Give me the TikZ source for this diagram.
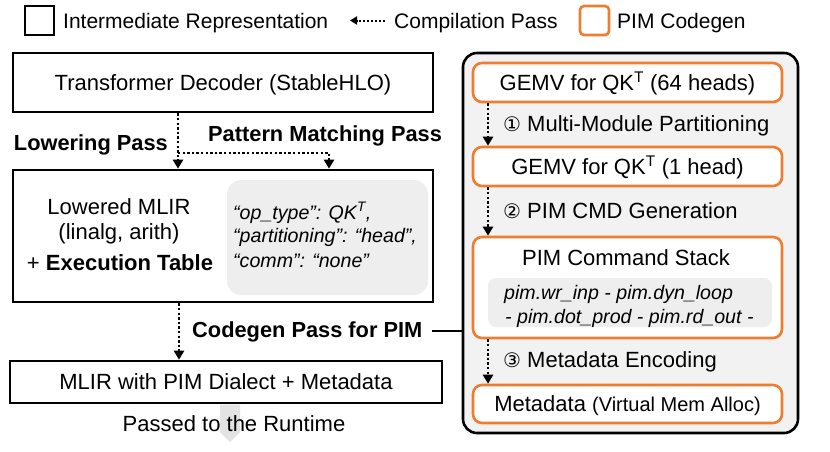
\documentclass[tikz,border=0pt]{standalone}
\usepackage{fontspec}
\setmainfont{Liberation Sans}
\newfontfamily\djv{DejaVu Sans}
\usetikzlibrary{arrows.meta}
\newcommand\fsz[1]{\fontsize{#1pt}{#1pt}\selectfont}
\definecolor{orng}{HTML}{ED7D31}
\definecolor{panelgray}{HTML}{F2F2F2}
\definecolor{tabgray}{HTML}{EEEEEE}
\definecolor{arrgray}{HTML}{E3E3E3}
\begin{document}
\begin{tikzpicture}[x=1pt,y=-1pt,
 irbox/.style={draw, line width=2.6pt, inner sep=0pt, font=\fsz{22}, text height=15.8pt, text depth=0pt},
 obox/.style={draw=orng, fill=white, line width=2.6pt, rounded corners=9pt, inner sep=0pt, font=\fsz{22}, text height=15.8pt, text depth=0pt},
 txt/.style={inner sep=0pt, font=\fsz{22}, text height=15.8pt, text depth=0pt},
 btxt/.style={txt, font=\fsz{21.8}\bfseries},
 itxt/.style={inner sep=0pt, font=\fsz{19.6}\itshape, text height=14pt, text depth=0pt},
 ltxt/.style={inner sep=0pt, font=\fsz{21}, text height=15pt, text depth=0pt},
 pass/.style={line width=2.4pt, dash pattern=on 2.4pt off 2.2pt, -{Triangle[length=9pt,width=10pt]}},
]
\useasboundingbox (0,0) rectangle (830,451);

% ---------- legend ----------
\node[draw, line width=2.6pt, minimum size=29pt, inner sep=0pt] (lgir) at (39.5,20.5) {};
\node[ltxt, anchor=west] (lgirt) at (63,20.5) {Intermediate Representation};
\coordinate (lga) at (385,20.5);
\coordinate (lgb) at (350,20.5);
\draw[line width=2pt, dash pattern=on 2pt off 2pt, -{Triangle[length=7pt,width=8pt]}] (lga) -- (lgb);
\node[ltxt, anchor=west] (lgpass) at (394,20.5) {Compilation Pass};
\node[draw=orng, line width=2.6pt, rounded corners=4pt, minimum size=29pt, inner sep=0pt] (lgpim) at (594.5,20.5) {};
\node[ltxt, anchor=west] (lgpimt) at (617,20.5) {PIM Codegen};

% ---------- left column ----------
\node[irbox, minimum width=420pt, minimum height=59pt] (dec) at (223,82.5) {Transformer Decoder (StableHLO)};
\node[irbox, minimum width=420pt, minimum height=132pt] (low) at (223,236) {};
\node[fill=tabgray, rounded corners=14pt, minimum width=201pt, minimum height=115pt, inner sep=0pt] (tab) at (327.5,237.5) {};
\node[txt] (lm1) at (119,207) {Lowered MLIR};
\node[txt] (lm2) at (119,232) {(linalg, arith)};
\node[txt] (lm3) at (120,263) {+ \textbf{Execution Table}};
\node[itxt, anchor=west] (tb1) at (233,212) {“op\_type”: QK\textsuperscript{T},};
\node[itxt, anchor=west] (tb2) at (233,235) {“partitioning”: “head”,};
\node[itxt, anchor=west] (tb3) at (233,260) {“comm”: “none”};

\node[irbox, minimum width=432pt, minimum height=42pt] (mlir) at (226,382) {MLIR with PIM Dialect + Metadata};
\fill[arrgray] (220,404.5) -- (240,404.5) -- (240,432) -- (230,442) -- (220,432) -- cycle;
\node[txt] (rt) at (234,424) {Passed to the Runtime};

\node[btxt, anchor=east] (lowp) at (168,143) {Lowering Pass};
\node[btxt, anchor=west] (patp) at (208,134) {Pattern Matching Pass};
\node[btxt, anchor=west] (cgp) at (192,330) {Codegen Pass for PIM};

\coordinate (lx) at (178,0);
\coordinate (br) at (178,153);
\coordinate (px) at (329,0);
\draw[pass] (lx |- dec.south) -- (lx |- low.north);
\draw[pass] (br) -| (px |- low.north);
\coordinate (cx) at (179,0);
\draw[pass] (cx |- low.south) -- (cx |- mlir.north);

% ---------- right panel ----------
\node[draw, line width=2.6pt, fill=panelgray, rounded corners=14pt, minimum width=335pt, minimum height=380pt, inner sep=0pt] (pan) at (630.5,243) {};
\coordinate (cgl) at (432,331);
\draw[line width=2.4pt] (cgl) -- (pan.west |- cgl);

\node[obox, minimum width=309pt, minimum height=39pt] (o1) at (627.5,82.5) {GEMV for QK\textsuperscript{T} (64 heads)};
\node[obox, minimum width=309pt, minimum height=39pt] (o2) at (627.5,166.5) {GEMV for QK\textsuperscript{T} (1 head)};
\node[obox, minimum width=309pt, minimum height=101pt] (o3) at (627.5,287.5) {};
\node[txt] (o3t) at (626,258) {PIM Command Stack};
\node[fill=tabgray, rounded corners=8pt, minimum width=284pt, minimum height=49pt, inner sep=0pt] (cmd) at (630,302.5) {};
\node[itxt, anchor=west] (cmd1) at (504,292) {pim.wr\_inp - pim.dyn\_loop};
\node[itxt, anchor=west] (cmd2) at (505,316) {- pim.dot\_prod - pim.rd\_out -};
\node[obox, minimum width=309pt, minimum height=38pt] (o4) at (627.5,404) {Metadata {\fsz{20}(Virtual Mem Alloc)}};

\node[txt, anchor=west] (s1) at (503,124) {{\djv\fsz{20}①} Multi-Module Partitioning};
\node[txt, anchor=west] (s2) at (503,211) {{\djv\fsz{20}②} PIM CMD Generation};
\node[txt, anchor=west] (s3) at (503,360) {{\djv\fsz{20}③} Metadata Encoding};

\coordinate (rx) at (488,0);
\draw[pass] (rx |- o1.south) -- (rx |- o2.north);
\draw[pass] (rx |- o2.south) -- (rx |- o3.north);
\draw[pass] (rx |- o3.south) -- (rx |- o4.north);
\end{tikzpicture}
\end{document}
